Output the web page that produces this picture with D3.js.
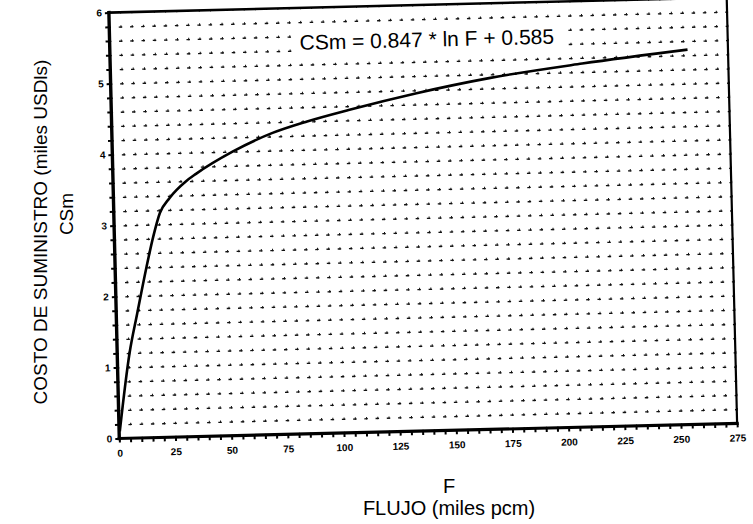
<!DOCTYPE html>
<html>
<head>
<meta charset="utf-8">
<script src="https://cdn.jsdelivr.net/npm/d3@7"></script>
<style>
  body { margin: 0; background: #fff; }
  svg { display: block; font-family: "Liberation Sans", Arial, Helvetica, sans-serif; }
  .ticks text { font-size: 10px; font-weight: bold; fill: #000; }
</style>
</head>
<body>
<svg id="chart"></svg>
<script>
// curve (F = flujo, CSm = costo)
const flujo = [0.3, 5.5, 9.3, 14, 17.3, 20.5, 25, 32.5, 37, 53.5, 71.5, 87, 106, 136, 169, 210, 257];
const costo = [0.1, 1.2, 1.75, 2.41, 2.83, 3.16, 3.37, 3.6, 3.7, 4.0, 4.25, 4.4, 4.55, 4.76, 4.95, 5.12, 5.28];
const xTickLabels = [0, 25, 50, 75, 100, 125, 150, 175, 200, 225, 250, 275];
const yTickLabels = [0, 1, 2, 3, 4, 5, 6];
const equation = "CSm = 0.847 * ln F + 0.585";

const W = 753, H = 524;
const padL = 114, padT = 5, pw = 618, ph = 426;

const svg = d3.select("#chart").attr("width", W).attr("height", H);

const xs = d3.scaleLinear().domain([0, 275]).range([0, pw]);
const ys = d3.scaleLinear().domain([0, 6]).range([ph, 0]);

// the scan is tilted a little, so the whole plot is turned with it
const g = svg.append("g")
  .attr("transform", `rotate(-1.4, 423, 218) translate(${padL},${padT})`);

// dotted graph-paper grid
const xMinor = d3.range(0, 56).map(i => i * 5);
const yMinor = d3.range(0, 31).map(i => i / 5);
const dx = xs(5) - xs(0);
const dy = ys(0) - ys(0.2);

g.append("g")
  .call(d3.axisLeft(ys).tickValues(yMinor.slice(1, -1)).tickSize(-pw).tickFormat(""))
  .call(a => a.select(".domain").remove())
  .selectAll("line")
  .attr("stroke", "#111")
  .attr("stroke-width", 1.3)
  .attr("stroke-dasharray", `3.5,${dx - 3.5}`)
  .attr("stroke-dashoffset", 1.75);

g.append("g")
  .attr("transform", `translate(0,${ph})`)
  .call(d3.axisBottom(xs).tickValues(xMinor.slice(1)).tickSize(-ph).tickFormat(""))
  .call(a => a.select(".domain").remove())
  .selectAll("line")
  .attr("stroke", "#111")
  .attr("stroke-width", 1)
  .attr("stroke-dasharray", `2.5,${dy - 2.5}`)
  .attr("stroke-dashoffset", 1.25);

// axes with minor ticks, labels only on the main values
const xAxis = g.append("g")
  .attr("class", "ticks")
  .attr("transform", `translate(0,${ph})`)
  .call(d3.axisBottom(xs).tickValues(xMinor)
    .tickFormat(d => xTickLabels.includes(d) ? d : "")
    .tickSize(4).tickPadding(7));
xAxis.select(".domain").remove();
xAxis.selectAll("line").attr("stroke", "#000").attr("stroke-width", 2);

const yAxis = g.append("g")
  .attr("class", "ticks")
  .call(d3.axisLeft(ys).tickValues(yMinor)
    .tickFormat(d => {
      const r = Math.round(d);
      return Math.abs(d - r) < 1e-9 && yTickLabels.includes(r) ? r : "";
    })
    .tickSize(4).tickPadding(3));
yAxis.select(".domain").remove();
yAxis.selectAll("line").attr("stroke", "#000").attr("stroke-width", 2);

// frame
const frame = [
  { x1: 0, y1: ph, x2: pw, y2: ph, w: 3.2 },
  { x1: 0, y1: 0, x2: 0, y2: ph, w: 3.4 },
  { x1: 0, y1: 0, x2: pw, y2: 0, w: 2.5 },
  { x1: pw, y1: 0, x2: pw, y2: ph, w: 2.2 }
];
g.selectAll(".frame").data(frame).enter().append("line")
  .attr("x1", d => d.x1).attr("y1", d => d.y1)
  .attr("x2", d => d.x2).attr("y2", d => d.y2)
  .attr("stroke", "#000").attr("stroke-width", d => d.w)
  .attr("stroke-linecap", "square");

// curve
const pts = flujo.map((f, i) => [f, costo[i]]);
g.append("path")
  .datum(pts)
  .attr("fill", "none")
  .attr("stroke", "#000")
  .attr("stroke-width", 2.6)
  .attr("stroke-linejoin", "round")
  .attr("d", d3.line().x(d => xs(d[0])).y(d => ys(d[1])).curve(d3.curveMonotoneX));

// equation on a clear patch of the paper
const eq = g.append("g").attr("transform", `translate(${xs(84.5)},${ys(5.41)})`);
const eqText = eq.append("text")
  .attr("font-size", 21)
  .attr("fill", "#000")
  .text(equation);
const bb = eqText.node().getBBox();
eq.insert("rect", "text")
  .attr("x", bb.x - 8).attr("y", bb.y - 4)
  .attr("width", bb.width + 16).attr("height", bb.height + 8)
  .attr("fill", "#fff");

// axis titles
svg.append("text")
  .attr("transform", "translate(47,232) rotate(-90)")
  .attr("text-anchor", "middle")
  .attr("font-size", 19)
  .text("COSTO DE SUMINISTRO (miles USDls)");
svg.append("text")
  .attr("transform", "translate(73,214) rotate(-90)")
  .attr("text-anchor", "middle")
  .attr("font-size", 19)
  .text("CSm");

svg.append("text")
  .attr("x", 449).attr("y", 493)
  .attr("text-anchor", "middle")
  .attr("font-size", 20)
  .text("F");
svg.append("text")
  .attr("x", 449).attr("y", 515)
  .attr("text-anchor", "middle")
  .attr("font-size", 20)
  .text("FLUJO (miles pcm)");
</script>
</body>
</html>
